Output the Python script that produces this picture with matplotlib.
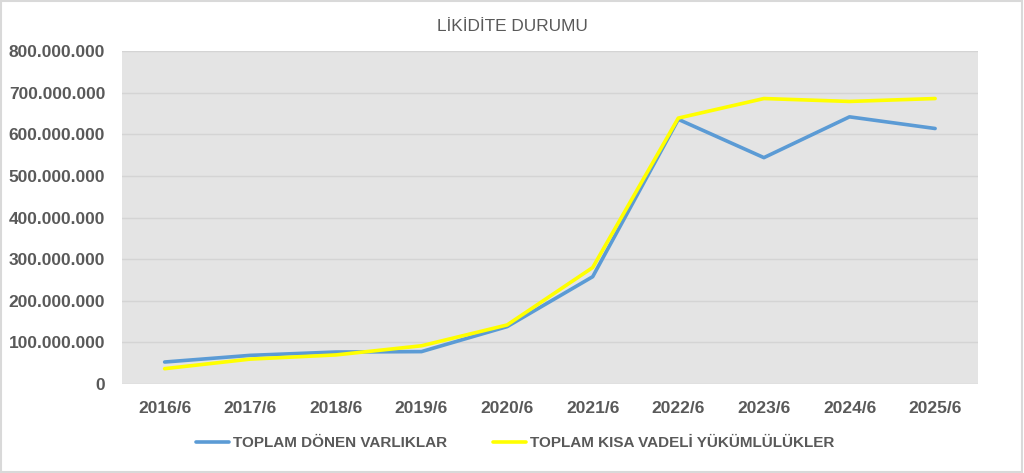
import matplotlib
matplotlib.use("Agg")
import matplotlib.pyplot as plt
from matplotlib.ticker import FuncFormatter
from matplotlib.patches import Rectangle

# ── Data ─────────────────────────────────────────────────
periods = ["2016/6", "2017/6", "2018/6", "2019/6", "2020/6",
           "2021/6", "2022/6", "2023/6", "2024/6", "2025/6"]
donen_varliklar = [53e6, 69e6, 77e6, 78e6, 138e6, 258e6, 636e6, 544e6, 642e6, 614e6]
kisa_vadeli = [37e6, 60e6, 70e6, 92e6, 142e6, 280e6, 639e6, 686e6, 679e6, 686e6]

label_donen = "TOPLAM DÖNEN VARLIKLAR"
label_kisa = "TOPLAM KISA VADELİ YÜKÜMLÜLÜKLER"
title = "LİKİDİTE DURUMU"

TEXT = "#595959"
plt.rcParams["font.family"] = ["Liberation Sans", "DejaVu Sans"]

fig = plt.figure(figsize=(10.24, 4.73), dpi=100)
ax = fig.add_axes([0.119, 0.188, 0.836, 0.704])
ax.set_facecolor("#E4E4E4")

x = list(range(len(periods)))
ax.plot(x, donen_varliklar, color="#5B9BD5", lw=2.6, label=label_donen, solid_capstyle="round")
ax.plot(x, kisa_vadeli, color="#FFFF00", lw=2.6, label=label_kisa, solid_capstyle="round")

ax.set_xlim(-0.5, len(periods) - 0.5)
ax.set_ylim(0, 800e6)
ax.set_yticks([i * 100e6 for i in range(9)])
ax.yaxis.set_major_formatter(FuncFormatter(
    lambda v, _: "0" if v == 0 else f"{int(v):,}".replace(",", ".")))
ax.set_xticks(x)
ax.set_xticklabels(periods)
ax.grid(axis="y", color="#D4D4D4", lw=1)
ax.set_axisbelow(True)
for s in ax.spines.values():
    s.set_visible(False)
ax.tick_params(length=0, colors=TEXT, labelsize=12.5)
ax.tick_params(axis="x", pad=12)
ax.tick_params(axis="y", pad=12)
for lbl in ax.get_xticklabels() + ax.get_yticklabels():
    lbl.set_fontweight("bold")

fig.text(0.5, 0.945, title, ha="center", va="center", fontsize=12.4, color=TEXT)

leg = fig.legend(loc="center", bbox_to_anchor=(0.503, 0.063), ncol=2, frameon=False,
                 handlelength=2.15, handletextpad=0.26, columnspacing=3.0,
                 labelcolor=TEXT, prop={"weight": "bold", "size": 11})

fig.patches.append(Rectangle((0.001, 0.002), 0.997, 0.995, transform=fig.transFigure,
                             fill=False, edgecolor="#D9D9D9", lw=1.5))

fig.savefig("out.png", dpi=100)
